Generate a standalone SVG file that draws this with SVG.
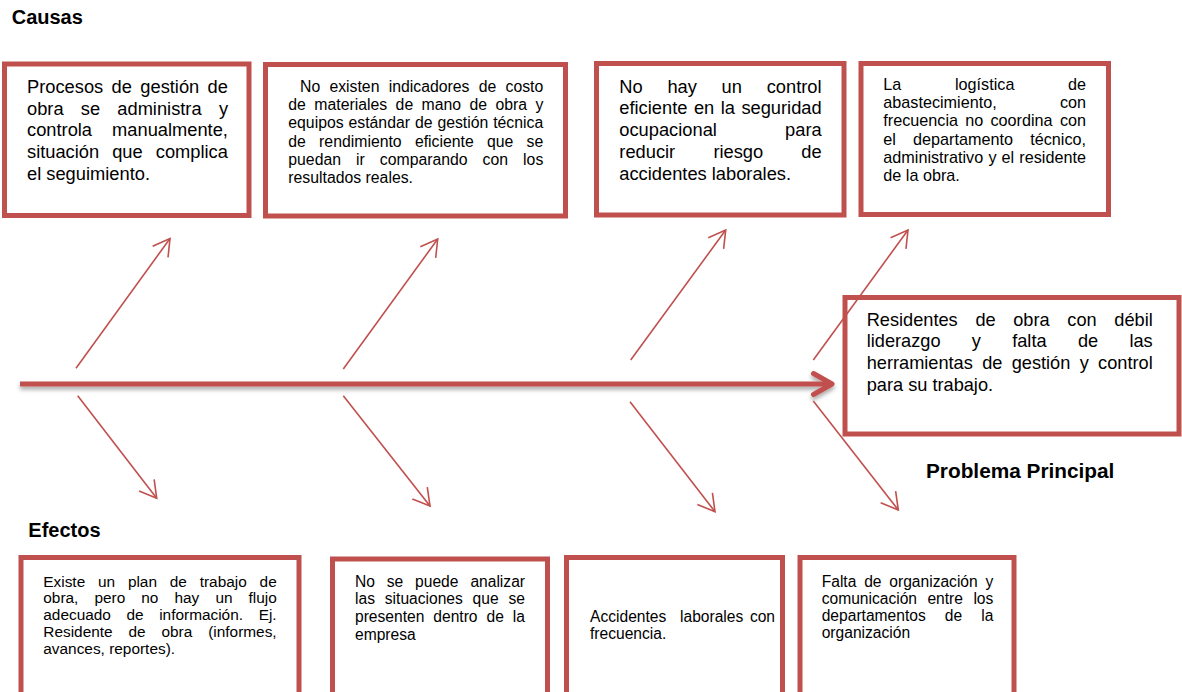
<svg xmlns="http://www.w3.org/2000/svg" width="1182" height="692" viewBox="0 0 1182 692">
  <style>
    .box { fill: #ffffff; stroke: #c0504d; stroke-width: 5; }
    .txt { font-family: "Liberation Sans", Arial, sans-serif; fill: #000000; }
    .big { font-size: 18.3px; }
    .mid { font-size: 15.8px; }
    .sm { font-size: 15.6px; }
    .head { font-family: "Liberation Sans", Arial, sans-serif; font-weight: bold; fill: #000000; }
    .bone { stroke: #c0504d; stroke-width: 1.6; fill: none; }
    .spine { stroke: #c0504d; stroke-width: 5; fill: none; }
  </style>
  <defs>
    <marker id="open-arrow" markerUnits="userSpaceOnUse" markerWidth="24" markerHeight="24" viewBox="-20 -12 24 24" refX="0" refY="0" orient="auto">
      <path d="M -16.5 -9.5 L 0 0 L -16.5 9.5" fill="none" stroke="#c0504d" stroke-width="1.6"/>
    </marker>
    <filter id="spine-shadow" x="-5%" y="-200%" width="110%" height="500%">
      <feDropShadow dx="0" dy="3" stdDeviation="2" flood-color="#000000" flood-opacity="0.35"/>
    </filter>
  </defs>

  <rect width="1182" height="692" fill="#ffffff"/>

  <!-- section headings -->
  <text id="label-causas" class="head" x="11.7" y="24" font-size="20">Causas</text>
  <text id="label-efectos" class="head" x="28.3" y="536.7" font-size="20">Efectos</text>
  <text id="label-problema" class="head" x="926" y="477.7" font-size="20.8">Problema Principal</text>

  <!-- causes -->
  <g id="causa-1">
    <rect class="box" x="4.5" y="64" width="244.5" height="151.5"/>
    <g class="txt big">
      <text y="92.7"><tspan x="27">Procesos</tspan><tspan x="111.6">de</tspan><tspan x="140.3">gestión</tspan><tspan x="207.6">de</tspan></text>
      <text y="114.5"><tspan x="27">obra</tspan><tspan x="80.8">se</tspan><tspan x="117.3">administra</tspan><tspan x="218.9">y</tspan></text>
      <text y="136.3"><tspan x="27">controla</tspan><tspan x="112.1">manualmente,</tspan></text>
      <text y="158.1"><tspan x="27">situación</tspan><tspan x="112.2">que</tspan><tspan x="155.8">complica</tspan></text>
      <text y="179.9" x="27">el seguimiento.</text>
    </g>
  </g>

  <g id="causa-2">
    <rect class="box" x="265.5" y="64.5" width="300" height="151.5"/>
    <g class="txt mid">
      <text y="91.7"><tspan x="300">No</tspan><tspan x="329.4">existen</tspan><tspan x="388.7">indicadores</tspan><tspan x="478.7">de</tspan><tspan x="505.5">costo</tspan></text>
      <text y="110"><tspan x="288.3">de</tspan><tspan x="314.3">materiales</tspan><tspan x="395.6">de</tspan><tspan x="421.6">mano</tspan><tspan x="469.5">de</tspan><tspan x="495.5">obra</tspan><tspan x="535.5">y</tspan></text>
      <text y="128.3"><tspan x="288.3">equipos</tspan><tspan x="348.5">estándar</tspan><tspan x="414.9">de</tspan><tspan x="437.4">gestión</tspan><tspan x="493.2">técnica</tspan></text>
      <text y="146.6"><tspan x="288.3">de</tspan><tspan x="319.1">rendimiento</tspan><tspan x="414.9">eficiente</tspan><tspan x="487">que</tspan><tspan x="526.6">se</tspan></text>
      <text y="164.9"><tspan x="288.3">puedan</tspan><tspan x="356">ir</tspan><tspan x="379.8">comparando</tspan><tspan x="482.6">con</tspan><tspan x="523.1">los</tspan></text>
      <text y="183.2" x="288.3">resultados reales.</text>
    </g>
  </g>

  <g id="causa-3">
    <rect class="box" x="596.5" y="63.5" width="247.5" height="151.5"/>
    <g class="txt big">
      <text y="92.7"><tspan x="619.3">No</tspan><tspan x="667.4">hay</tspan><tspan x="721.6">un</tspan><tspan x="766.7">control</tspan></text>
      <text y="114.4"><tspan x="619.3">eficiente</tspan><tspan x="693.9">en</tspan><tspan x="720.7">la</tspan><tspan x="741.4">seguridad</tspan></text>
      <text y="136.1"><tspan x="619.3">ocupacional</tspan><tspan x="785.1">para</tspan></text>
      <text y="157.8"><tspan x="619.3">reducir</tspan><tspan x="713.4">riesgo</tspan><tspan x="801.3">de</tspan></text>
      <text y="179.5" x="619.3">accidentes laborales.</text>
    </g>
  </g>

  <g id="causa-4">
    <rect class="box" x="861" y="63.5" width="247.5" height="151"/>
    <g class="txt" font-size="16.2">
      <text y="90"><tspan x="883.3">La</tspan><tspan x="955">logística</tspan><tspan x="1068">de</tspan></text>
      <text y="108.2"><tspan x="883.3">abastecimiento,</tspan><tspan x="1059.9">con</tspan></text>
      <text y="126.4"><tspan x="883.3">frecuencia</tspan><tspan x="965.3">no</tspan><tspan x="990.5">coordina</tspan><tspan x="1059.9">con</tspan></text>
      <text y="144.6"><tspan x="883.3">el</tspan><tspan x="913.1">departamento</tspan><tspan x="1030.2">técnico,</tspan></text>
      <text y="162.8"><tspan x="883.3">administrativo</tspan><tspan x="988.4">y</tspan><tspan x="1001.6">el</tspan><tspan x="1019.3">residente</tspan></text>
      <text y="181" x="883.3">de la obra.</text>
    </g>
  </g>

  <!-- main problem -->
  <g id="problema-principal">
    <rect class="box" x="845" y="297.5" width="334" height="136.5"/>
    <g class="txt" font-size="18.2">
      <text y="325.7"><tspan x="866.7">Residentes</tspan><tspan x="975.4">de</tspan><tspan x="1013.2">obra</tspan><tspan x="1067.3">con</tspan><tspan x="1114.3">débil</tspan></text>
      <text y="347.4"><tspan x="866.7">liderazgo</tspan><tspan x="971.8">y</tspan><tspan x="1012.2">falta</tspan><tspan x="1077.9">de</tspan><tspan x="1129.4">las</tspan></text>
      <text y="369.1"><tspan x="866.7">herramientas</tspan><tspan x="982.2">de</tspan><tspan x="1011.7">gestión</tspan><tspan x="1079.7">y</tspan><tspan x="1098.1">control</tspan></text>
      <text y="390.8" x="866.7">para su trabajo.</text>
    </g>
  </g>

  <!-- effects -->
  <g id="efecto-1">
    <rect class="box" x="21" y="557.5" width="278" height="170"/>
    <g class="txt" font-size="15.4">
      <text y="586.5"><tspan x="43.3">Existe</tspan><tspan x="98">un</tspan><tspan x="127.9">plan</tspan><tspan x="169.8">de</tspan><tspan x="199.7">trabajo</tspan><tspan x="259.6">de</tspan></text>
      <text y="603.4"><tspan x="43.3">obra,</tspan><tspan x="94.4">pero</tspan><tspan x="141.3">no</tspan><tspan x="174.5">hay</tspan><tspan x="215.4">un</tspan><tspan x="248.5">flujo</tspan></text>
      <text y="620.3"><tspan x="43.3">adecuado</tspan><tspan x="126.5">de</tspan><tspan x="159.2">información.</tspan><tspan x="258.7">Ej.</tspan></text>
      <text y="637.2"><tspan x="43.3">Residente</tspan><tspan x="128.5">de</tspan><tspan x="161.5">obra</tspan><tspan x="208.2">(informes,</tspan></text>
      <text y="654.1" x="43.3">avances, reportes).</text>
    </g>
  </g>

  <g id="efecto-2">
    <rect class="box" x="332.5" y="559" width="215" height="170"/>
    <g class="txt sm">
      <text y="586.5"><tspan x="355">No</tspan><tspan x="386.8">se</tspan><tspan x="415.1">puede</tspan><tspan x="470.4">analizar</tspan></text>
      <text y="604.2"><tspan x="355">las</tspan><tspan x="384.8">situaciones</tspan><tspan x="472.6">que</tspan><tspan x="508.5">se</tspan></text>
      <text y="621.9"><tspan x="355">presenten</tspan><tspan x="433.3">dentro</tspan><tspan x="486.5">de</tspan><tspan x="512.8">la</tspan></text>
      <text y="639.6" x="355">empresa</text>
    </g>
  </g>

  <g id="efecto-3">
    <rect class="box" x="566.5" y="557.5" width="216" height="170"/>
    <g class="txt sm">
      <text y="621.7"><tspan x="590">Accidentes</tspan><tspan x="680">laborales</tspan><tspan x="749.9">con</tspan></text>
      <text y="639.3" x="590">frecuencia.</text>
    </g>
  </g>

  <g id="efecto-4">
    <rect class="box" x="800" y="557.5" width="214" height="170"/>
    <g class="txt sm">
      <text y="586.5"><tspan x="821.7">Falta</tspan><tspan x="864.2">de</tspan><tspan x="889.3">organización</tspan><tspan x="985.5">y</tspan></text>
      <text y="603.7"><tspan x="821.7">comunicación</tspan><tspan x="927.4">entre</tspan><tspan x="973.4">los</tspan></text>
      <text y="620.9"><tspan x="821.7">departamentos</tspan><tspan x="944.8">de</tspan><tspan x="981.2">la</tspan></text>
      <text y="638.1" x="821.7">organización</text>
    </g>
  </g>

  <!-- spine and bones -->
  <g id="connectors">
    <g filter="url(#spine-shadow)">
      <line class="spine" x1="20" y1="384" x2="831" y2="384"/>
      <polyline class="spine" points="813.5,373.5 832,384 813.5,394.5" stroke-linejoin="round" stroke-linecap="round"/>
    </g>
    <line class="bone" x1="76" y1="368.3" x2="170" y2="238.5" marker-end="url(#open-arrow)"/>
    <line class="bone" x1="343.3" y1="369" x2="437.7" y2="239" marker-end="url(#open-arrow)"/>
    <line class="bone" x1="630.7" y1="360" x2="725.7" y2="230" marker-end="url(#open-arrow)"/>
    <line class="bone" x1="813.3" y1="360" x2="908" y2="230" marker-end="url(#open-arrow)"/>
    <line class="bone" x1="77.7" y1="395.7" x2="156.7" y2="498.3" marker-end="url(#open-arrow)"/>
    <line class="bone" x1="343.3" y1="395.7" x2="430" y2="506" marker-end="url(#open-arrow)"/>
    <line class="bone" x1="630" y1="401.7" x2="715" y2="511.7" marker-end="url(#open-arrow)"/>
    <line class="bone" x1="813.3" y1="401" x2="898.3" y2="510" marker-end="url(#open-arrow)"/>
  </g>
</svg>
